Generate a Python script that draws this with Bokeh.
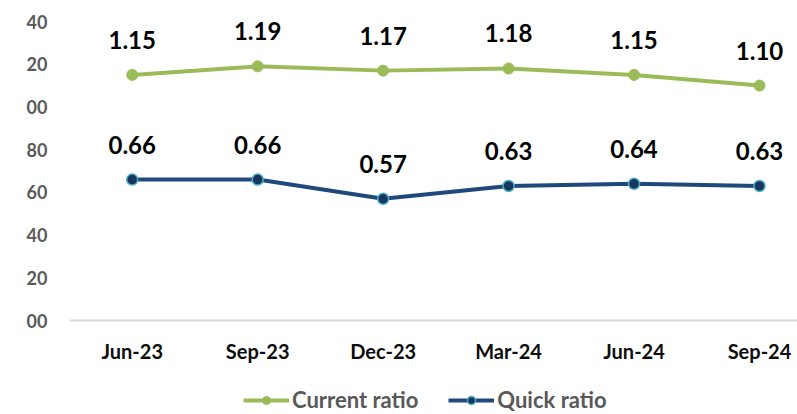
from bokeh.plotting import figure
from bokeh.models import (ColumnDataSource, Range1d, FixedTicker, Legend, LegendItem)
from bokeh.core.properties import value
from bokeh.embed import file_html
from bokeh.resources import INLINE

periods = ["Jun-23", "Sep-23", "Dec-23", "Mar-24", "Jun-24", "Sep-24"]
current_ratio = [1.15, 1.19, 1.17, 1.18, 1.15, 1.10]
quick_ratio = [0.66, 0.66, 0.57, 0.63, 0.64, 0.63]
y_ticks = [0, 0.2, 0.4, 0.6, 0.8, 1.0, 1.2, 1.4]
y_tick_labels = ["00", "20", "40", "60", "80", "00", "20", "40"]

FONT = "Lato"
xs = list(range(len(periods)))

src = ColumnDataSource(dict(
    x=xs, cur=current_ratio, quick=quick_ratio,
    cur_lbl=[f"{v:.2f}" for v in current_ratio],
    quick_lbl=[f"{v:.2f}" for v in quick_ratio],
))

p = figure(width=797, height=414, output_backend="svg", toolbar_location=None,
           x_range=Range1d(-0.5, 5.303), y_range=Range1d(-0.44, 1.4),
           min_border_left=69, min_border_right=0, min_border_top=21,
           min_border_bottom=0)
p.outline_line_color = None
p.grid.grid_line_color = None
p.background_fill_color = "white"

# x axis, drawn at y = 0 inside the frame
p.xaxis.fixed_location = 0
p.xaxis.ticker = FixedTicker(ticks=xs)
p.xaxis.major_label_overrides = {i: lab for i, lab in enumerate(periods)}
p.xaxis.axis_line_color = "#d9d9d9"
p.xaxis.axis_line_width = 2
p.xaxis.major_tick_line_color = None
p.xaxis.minor_tick_line_color = None
p.xaxis.major_tick_out = 0
p.xaxis.major_tick_in = 0
p.xaxis.major_label_text_font = FONT
p.xaxis.major_label_text_font_style = "bold"
p.xaxis.major_label_text_font_size = "20px"
p.xaxis.major_label_text_color = "#0d0d0d"
p.xaxis.major_label_standoff = 18

# y axis
p.yaxis.ticker = FixedTicker(ticks=y_ticks)
p.yaxis.major_label_overrides = {t: lab for t, lab in zip(y_ticks, y_tick_labels)}
p.yaxis.axis_line_color = None
p.yaxis.major_tick_line_color = None
p.yaxis.minor_tick_line_color = None
p.yaxis.major_tick_out = 0
p.yaxis.major_tick_in = 0
p.yaxis.major_label_text_font = FONT
p.yaxis.major_label_text_font_style = "bold"
p.yaxis.major_label_text_font_size = "18px"
p.yaxis.major_label_text_color = "#595959"
p.yaxis.major_label_standoff = 22

green = "#9BBB59"
blue = "#1F497D"

l1 = p.line("x", "cur", source=src, line_color=green, line_width=4)
m1 = p.scatter("x", "cur", source=src, size=11, fill_color=green, line_color=green)
l2 = p.line("x", "quick", source=src, line_color=blue, line_width=4)
m2 = p.scatter("x", "quick", source=src, size=11, fill_color="#17375E",
               line_color="#4BACC6", line_width=1.5)

for col, lcol in (("cur", "cur_lbl"), ("quick", "quick_lbl")):
    p.text("x", col, text=lcol, source=src, y_offset=-35,
           text_align="center", text_baseline="middle",
           text_font=value(FONT), text_font_style="bold",
           text_font_size="24px", text_color="#000000")

legend = Legend(items=[LegendItem(label="Current ratio", renderers=[l1, m1]),
                       LegendItem(label="Quick ratio", renderers=[l2, m2])],
                location=(174, 1), orientation="horizontal",
                glyph_width=46, glyph_height=20, label_height=20,
                label_standoff=3, spacing=30,
                padding=0, margin=0, border_line_color=None,
                background_fill_alpha=0,
                label_text_font=FONT, label_text_font_style="bold",
                label_text_font_size="22px", label_text_color="#595959")
p.add_layout(legend, "center")

open("out.html", "w").write(file_html(p, INLINE))
